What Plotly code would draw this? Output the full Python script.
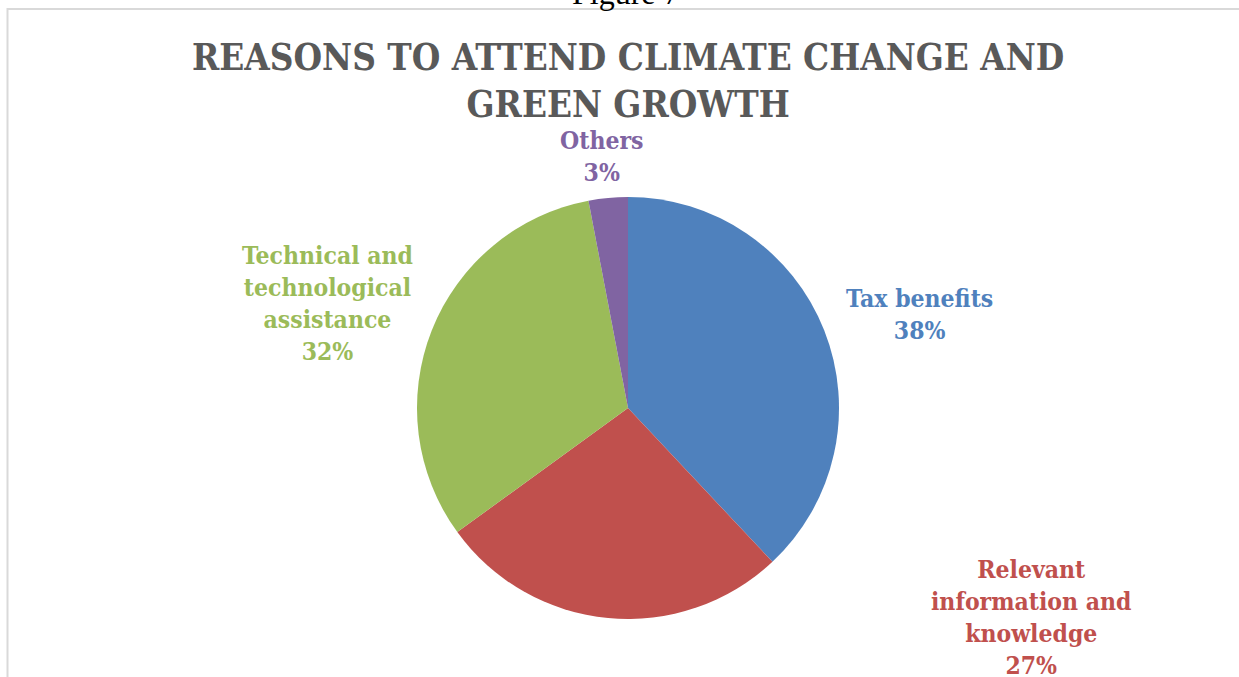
import plotly.graph_objects as go

W, H = 1239, 677

categories = ["Tax benefits", "Relevant information and knowledge",
              "Technical and technological assistance", "Others"]
label_lines = ["Tax benefits", "Relevant<br>information and<br>knowledge",
               "Technical and<br>technological<br>assistance", "Others"]
values = [38, 27, 32, 3]
colors = ["#4F81BD", "#C0504D", "#9BBB59", "#8064A2"]
title_text = "REASONS TO ATTEND CLIMATE CHANGE AND<br>GREEN GROWTH"

# label block centres in pixels (layout only)
label_pos = [(919, 314), (1031, 617), (327, 303), (601, 156)]

cx, cy, r = 628, 408, 211

def px(x):
    return x / W

def py(y):
    return 1 - y / H

fig = go.Figure()
fig.add_trace(go.Pie(
    labels=categories,
    values=values,
    sort=False,
    direction="clockwise",
    rotation=0,
    marker=dict(colors=colors, line=dict(width=0)),
    textinfo="none",
    hoverinfo="label+percent",
    showlegend=False,
    domain=dict(x=[px(cx - r), px(cx + r)], y=[py(cy + r), py(cy - r)]),
))

label_font = "DejaVu Serif Condensed, DejaVu Serif, serif"
for txt, v, c, (x, y) in zip(label_lines, values, colors, label_pos):
    fig.add_annotation(
        x=px(x), y=py(y), xref="paper", yref="paper",
        text=f"<b>{txt}<br>{v}%</b>", showarrow=False,
        xanchor="center", yanchor="middle", align="center",
        font=dict(family=label_font, size=24.5, color=c),
    )

# title
fig.add_annotation(
    x=px(628), y=py(81), xref="paper", yref="paper",
    text=f"<b>{title_text}</b>", showarrow=False,
    xanchor="center", yanchor="middle", align="center",
    font=dict(family=label_font, size=36.5, color="#595959"),
)

# caption fragment above the chart frame
fig.add_annotation(
    x=px(626), y=py(13), xref="paper", yref="paper",
    text="Figure 7", showarrow=False,
    xanchor="center", yanchor="bottom",
    font=dict(family="Liberation Serif, serif", size=32, color="#000000"),
)

# chart frame lines
fig.add_shape(type="line", xref="paper", yref="paper",
              x0=px(7), x1=1, y0=py(9), y1=py(9),
              line=dict(color="#D9D9D9", width=2))
fig.add_shape(type="line", xref="paper", yref="paper",
              x0=px(7.5), x1=px(7.5), y0=py(8), y1=0,
              line=dict(color="#D9D9D9", width=2))

fig.update_layout(
    width=W, height=H,
    margin=dict(l=0, r=0, t=0, b=0),
    paper_bgcolor="white", plot_bgcolor="white",
)

fig.write_html("out.html")
